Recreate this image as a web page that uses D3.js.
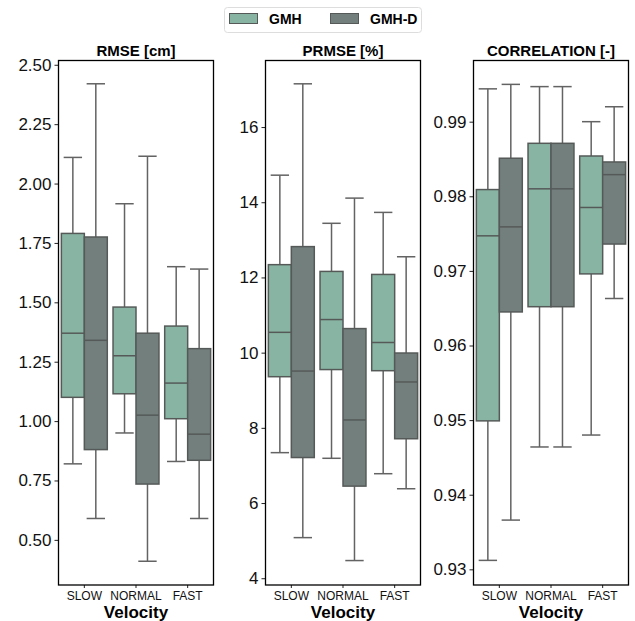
<!DOCTYPE html>
<html>
<head>
<meta charset="utf-8">
<script src="https://cdn.jsdelivr.net/npm/d3@7"></script>
<style>
  body { margin: 0; background: #fff; }
  text { font-family: "Liberation Sans", Arial, sans-serif; }
</style>
</head>
<body>
<div id="chart"></div>
<script>
// categories and groups
var categories = ['SLOW', 'NORMAL', 'FAST'];
var groups = ['GMH', 'GMH-D'];

// box stats per category: [whiskerLow, q1, median, q3, whiskerHigh]
var rmseGMH  = [[0.82, 1.10, 1.37, 1.79, 2.11], [0.95, 1.115, 1.275, 1.48, 1.915], [0.83, 1.01, 1.16, 1.40, 1.65]];
var rmseGMHD = [[0.59, 0.88, 1.34, 1.775, 2.42], [0.41, 0.735, 1.025, 1.37, 2.115], [0.59, 0.835, 0.945, 1.305, 1.64]];

var prmseGMH  = [[7.34, 9.36, 10.54, 12.34, 14.72], [7.19, 9.55, 10.88, 12.16, 13.44], [6.78, 9.52, 10.27, 12.08, 13.73]];
var prmseGMHD = [[5.08, 7.21, 9.51, 12.82, 17.15], [4.47, 6.45, 8.21, 10.64, 14.11], [6.38, 7.71, 9.22, 9.99, 12.55]];

var corrGMH  = [[0.9312, 0.9499, 0.9747, 0.9809, 0.9944], [0.9464, 0.9652, 0.9810, 0.9871, 0.9947], [0.9480, 0.9696, 0.9785, 0.9854, 0.9900]];
var corrGMHD = [[0.9366, 0.9645, 0.9759, 0.9851, 0.9950], [0.9464, 0.9652, 0.9810, 0.9871, 0.9947], [0.9663, 0.9736, 0.9829, 0.9846, 0.9920]];

// tick labels
var rmseTicks = [0.50, 0.75, 1.00, 1.25, 1.50, 1.75, 2.00, 2.25, 2.50];
var prmseTicks = [4, 6, 8, 10, 12, 14, 16];
var corrTicks = [0.93, 0.94, 0.95, 0.96, 0.97, 0.98, 0.99];

var colors = ['#88b5a3', '#737f7d'];

var panels = [
  { title: 'RMSE [cm]', data: [rmseGMH, rmseGMHD], domain: [0.31, 2.518], ticks: rmseTicks, fmt: d3.format('.2f'), left: 58.5 },
  { title: 'PRMSE [%]', data: [prmseGMH, prmseGMHD], domain: [3.82, 17.77], ticks: prmseTicks, fmt: d3.format('d'), left: 265.5 },
  { title: 'CORRELATION [-]', data: [corrGMH, corrGMHD], domain: [0.9279, 0.9982], ticks: corrTicks, fmt: d3.format('.2f'), left: 473.5 }
];

var width = 635, height = 621;
var plotTop = 60.5, plotBottom = 585, panelW = 155;

var svg = d3.select('#chart').append('svg')
  .attr('width', width)
  .attr('height', height);

panels.forEach(function(p) {
  var g = svg.append('g').attr('transform', 'translate(' + p.left + ',0)');

  var x = d3.scaleBand().domain(categories).range([0, panelW]);
  var xg = d3.scaleBand().domain(groups).range([0, x.bandwidth()]).paddingOuter(0.125).paddingInner(0);
  var y = d3.scaleLinear().domain(p.domain).range([plotBottom, plotTop]);

  // y axis
  var ya = g.append('g')
    .call(d3.axisLeft(y).tickValues(p.ticks).tickFormat(p.fmt).tickSize(4).tickPadding(3));
  ya.select('.domain').remove();
  ya.selectAll('text').attr('font-size', 17).attr('fill', '#111');
  ya.selectAll('line').attr('stroke', '#222');

  // x axis
  var xa = g.append('g')
    .attr('transform', 'translate(0,' + plotBottom + ')')
    .call(d3.axisBottom(x).tickSize(3).tickPadding(3));
  xa.select('.domain').remove();
  xa.selectAll('text').attr('font-size', 12).attr('fill', '#111');
  xa.selectAll('line').attr('stroke', '#222');

  // boxes
  groups.forEach(function(grp, gi) {
    var series = p.data[gi];
    var bw = xg.bandwidth();
    var sel = g.selectAll('.box' + gi)
      .data(series)
      .enter().append('g')
      .attr('class', 'box' + gi)
      .attr('transform', function(d, i) { return 'translate(' + (x(categories[i]) + xg(grp)) + ',0)'; });

    var cx = bw / 2, capW = bw * 0.8;

    // whiskers
    sel.append('line')
      .attr('x1', cx).attr('x2', cx)
      .attr('y1', function(d) { return y(d[0]); })
      .attr('y2', function(d) { return y(d[1]); })
      .attr('stroke', '#636363').attr('stroke-width', 1.5);
    sel.append('line')
      .attr('x1', cx).attr('x2', cx)
      .attr('y1', function(d) { return y(d[3]); })
      .attr('y2', function(d) { return y(d[4]); })
      .attr('stroke', '#636363').attr('stroke-width', 1.5);
    // caps
    [0, 4].forEach(function(k) {
      sel.append('line')
        .attr('x1', cx - capW / 2).attr('x2', cx + capW / 2)
        .attr('y1', function(d) { return y(d[k]); })
        .attr('y2', function(d) { return y(d[k]); })
        .attr('stroke', '#636363').attr('stroke-width', 1.5);
    });
    // box
    sel.append('rect')
      .attr('x', 0)
      .attr('width', bw)
      .attr('y', function(d) { return y(d[3]); })
      .attr('height', function(d) { return y(d[1]) - y(d[3]); })
      .attr('fill', colors[gi])
      .attr('stroke', '#555a59').attr('stroke-width', 1.5);
    // median
    sel.append('line')
      .attr('x1', 0).attr('x2', bw)
      .attr('y1', function(d) { return y(d[2]); })
      .attr('y2', function(d) { return y(d[2]); })
      .attr('stroke', '#555a59').attr('stroke-width', 1.5);
  });

  // frame
  g.append('rect')
    .attr('x', 0).attr('y', plotTop)
    .attr('width', panelW).attr('height', plotBottom - plotTop)
    .attr('fill', 'none').attr('stroke', '#000').attr('stroke-width', 1.3);

  // title
  g.append('text')
    .attr('x', panelW / 2).attr('y', 56)
    .attr('text-anchor', 'middle')
    .attr('font-size', 15).attr('font-weight', 'bold')
    .text(p.title);

  // x label
  g.append('text')
    .attr('x', panelW / 2).attr('y', 618)
    .attr('text-anchor', 'middle')
    .attr('font-size', 17).attr('font-weight', 'bold')
    .text('Velocity');
});

// legend
var legend = svg.append('g');
legend.append('rect')
  .attr('x', 224.5).attr('y', 7.5).attr('width', 197).attr('height', 25).attr('rx', 3)
  .attr('fill', '#fff').attr('stroke', '#ddd').attr('stroke-width', 1);
var legX = [229, 330];
groups.forEach(function(grp, i) {
  legend.append('rect')
    .attr('x', legX[i] + 0.5).attr('y', 13.5).attr('width', 28).attr('height', 10)
    .attr('fill', colors[i]).attr('stroke', '#555a59').attr('stroke-width', 1);
  legend.append('text')
    .attr('x', legX[i] + 40).attr('y', 23.5)
    .attr('font-size', 14).attr('font-weight', 'bold')
    .text(grp);
});
</script>
</body>
</html>
